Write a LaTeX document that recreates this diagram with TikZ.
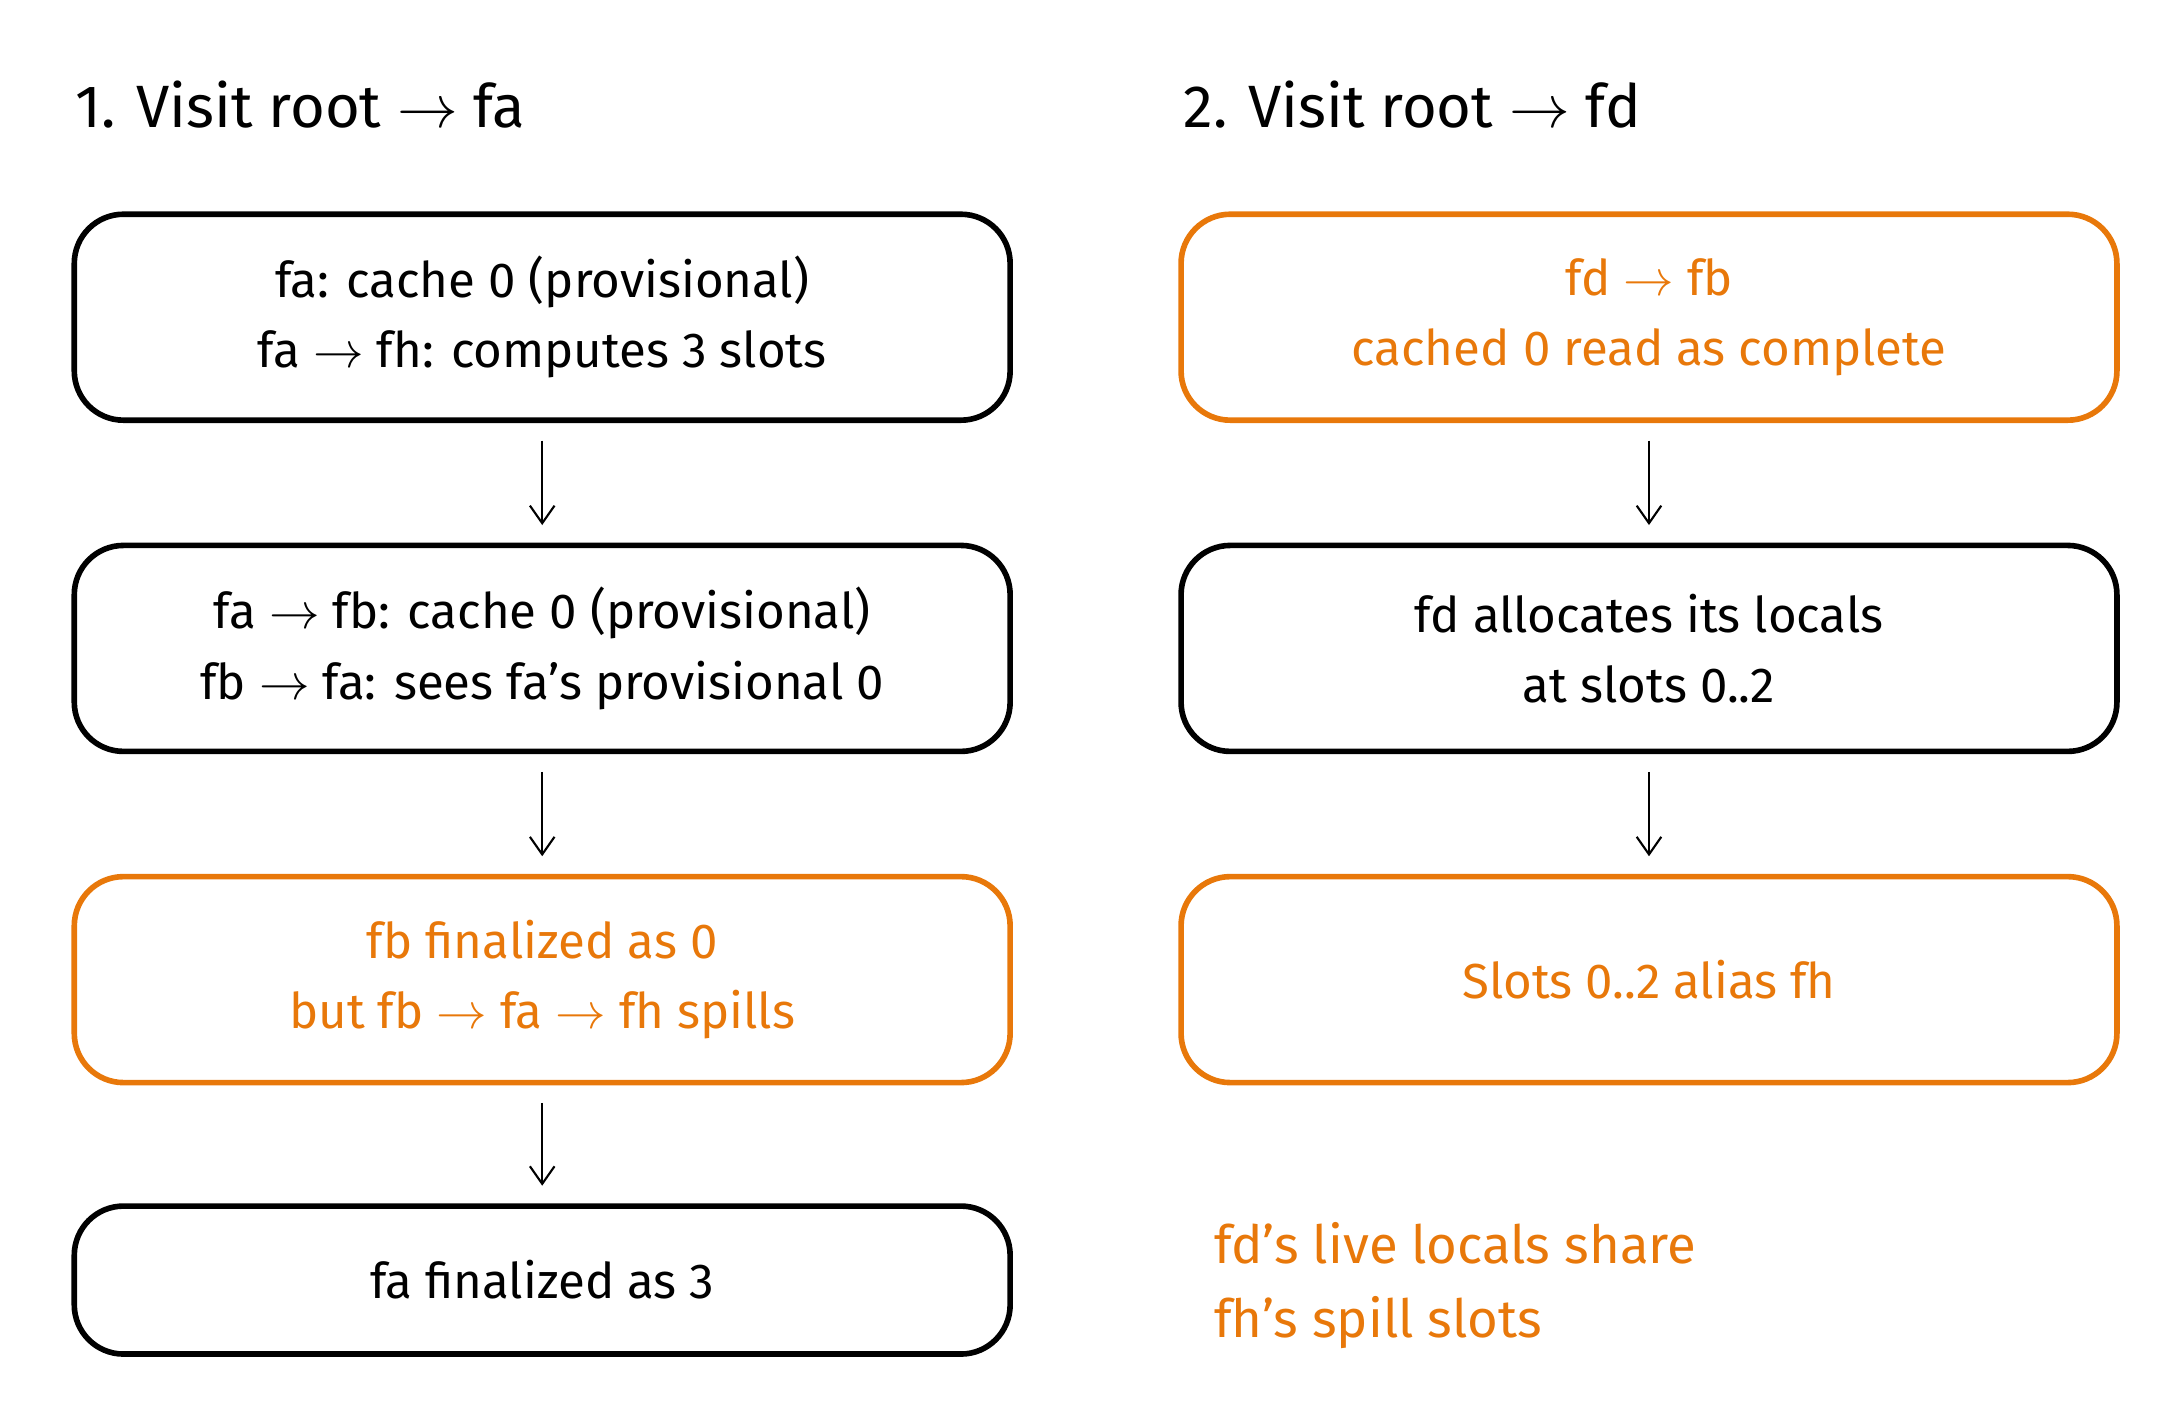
\documentclass[tikz,border=0pt]{standalone}
\usepackage{fontspec}
\setmainfont{Fira Sans}
\usetikzlibrary{arrows.meta}
\definecolor{hot}{HTML}{E8780A}
\begin{document}
\begin{tikzpicture}[x=0.013974cm,y=-0.013974cm]
\tikzset{box/.style = {draw,line width=1.6pt,rounded corners=14pt,minimum width=9.36cm,minimum height=2.06cm,align=center,font=\fontsize{14}{20}\selectfont}}
\tikzset{hotbox/.style = {box,draw=hot,text=hot}}
\tikzset{flow/.style = {-{Straight Barb[length=5pt,width=7pt]},line width=0.6pt}}
\tikzset{title/.style = {anchor=west,font=\fontsize{17}{20}\selectfont}}
\useasboundingbox (0,0) rectangle (1560,1015);
%titles
\node[title] (t1) at (45,75) {1. Visit root $\rightarrow$ fa};
\node[title] (t2) at (838,75) {2. Visit root $\rightarrow$ fd};
%left column
\node[box] (a1) at (388,227) {fa: cache 0 (provisional)\\fa $\rightarrow$ fh: computes 3 slots};
\node[box] (a2) at (388,464) {fa $\rightarrow$ fb: cache 0 (provisional)\\fb $\rightarrow$ fa: sees fa's provisional 0};
\node[hotbox] (a3) at (388,701) {fb finalized as 0\\but fb $\rightarrow$ fa $\rightarrow$ fh spills};
\node[box,minimum height=1.48cm] (a4) at (388,916) {fa finalized as 3};
%right column
\node[hotbox] (b1) at (1180,227) {fd $\rightarrow$ fb\\cached 0 read as complete};
\node[box] (b2) at (1180,464) {fd allocates its locals\\at slots 0..2};
\node[hotbox] (b3) at (1180,701) {Slots 0..2 alias fh};
\node[anchor=north west,align=left,text=hot,font=\fontsize{15}{21}\selectfont] (note) at (860,866) {fd's live locals share\\fh's spill slots};
%arrows
\draw[flow] ([yshift=-5pt]a1.south) -- ([yshift=5pt]a2.north);
\draw[flow] ([yshift=-5pt]a2.south) -- ([yshift=5pt]a3.north);
\draw[flow] ([yshift=-5pt]a3.south) -- ([yshift=5pt]a4.north);
\draw[flow] ([yshift=-5pt]b1.south) -- ([yshift=5pt]b2.north);
\draw[flow] ([yshift=-5pt]b2.south) -- ([yshift=5pt]b3.north);
\end{tikzpicture}
\end{document}
